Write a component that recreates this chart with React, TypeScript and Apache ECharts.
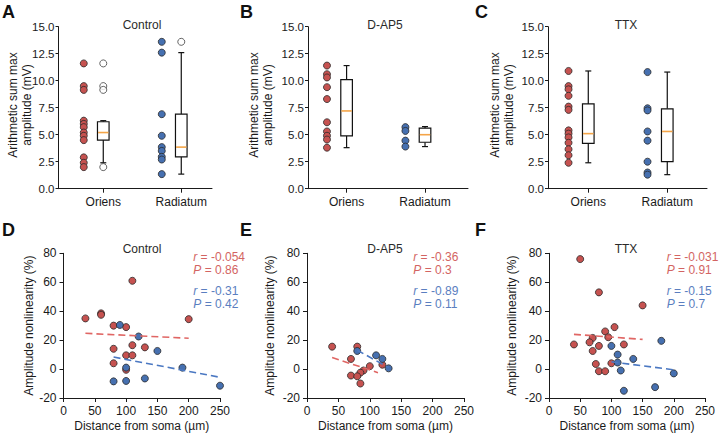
import React, { useEffect, useRef } from 'react';
import * as echarts from 'echarts';

// ---------- data ----------
const boxCategories = ['Oriens', 'Radiatum'];
const panelTitles = ['Control', 'D-AP5', 'TTX'];
const topYName = 'Arithmetic sum max\namplitude (mV)';

// Arithmetic sum max amplitude (mV)
const controlOriens = [11.6, 9.5, 9.15, 6.3, 6.0, 5.7, 5.2, 4.9, 4.5, 2.9, 2.4, 2.0];
const controlRadiatum = [13.6, 12.6, 6.9, 4.9, 3.85, 3.5, 2.95, 2.7, 1.35];
const dap5Oriens = [11.4, 10.6, 10.3, 9.4, 8.3, 6.15, 5.3, 4.9, 4.55, 3.8];
const dap5Radiatum = [5.7, 5.35, 4.45, 3.9];
const ttxOriens = [10.9, 9.5, 9.2, 8.6, 7.6, 7.3, 5.4, 5.1, 4.75, 4.25, 3.65, 3.1, 2.4];
const ttxRadiatum = [10.8, 7.45, 7.25, 5.3, 4.45, 2.5, 1.5, 1.3];

// box stats [lowWhisker, q1, median, q3, highWhisker]
const controlOriensBox = [2.4, 4.5, 5.2, 6.2, 6.3];
const controlRadiatumBox = [1.35, 2.95, 3.85, 6.9, 12.6];
const dap5OriensBox = [3.8, 4.9, 7.2, 10.1, 11.4];
const dap5RadiatumBox = [3.9, 4.3, 5.0, 5.6, 5.75];
const ttxOriensBox = [2.4, 4.2, 5.1, 7.85, 10.9];
const ttxRadiatumBox = [1.3, 2.5, 5.3, 7.4, 10.8];

// outliers
const controlOriensOut = [11.6, 9.5, 9.15, 2.0];
const controlRadiatumOut = [13.6];

// Amplitude nonlinearity (%) vs distance from soma (µm)
const controlRed = [[110, 61], [35, 35], [60, 38.5], [60, 37.5], [200, 34.5], [80, 30], [100, 29], [110, 16.5], [130, 15], [80, 14], [100, 9.5], [110, 9.5], [80, 4], [100, -0.5]];
const controlBlue = [[90, 30.5], [120, 22.5], [150, 12.5], [100, 1], [190, 1], [80, -8.5], [100, -8.2], [130, -6.5], [250, -11.5]];
const dap5Red = [[40, 15.5], [80, 15.5], [70, 7], [100, 2], [120, 3], [90, -1], [85, -2.5], [70, -4.5], [80, -5], [85, -10]];
const dap5Blue = [[80, 12.5], [110, 9.5], [120, 7], [130, 0.5]];
const ttxRed = [[50, 76], [80, 53], [150, 44], [105, 29], [90, 26], [95, 22], [70, 21.5], [40, 17], [65, 18.5], [80, 16], [120, 17], [70, 12.5], [75, 3.5], [100, 4], [80, -1.5], [90, -1.5]];
const ttxBlue = [[180, 19.5], [100, 16], [110, 10], [135, 7], [110, 4.5], [115, -1], [200, -3], [170, -12.5], [120, -15]];

// regression line end points
const controlRedFit = [[35, 24.7], [200, 21.3]];
const controlBlueFit = [[80, 8.3], [250, -5.7]];
const dap5RedFit = [[40, 8], [113, -2.5]];
const dap5BlueFit = [[80, 13], [130, 1]];
const ttxRedFit = [[40, 24], [150, 20.5]];
const ttxBlueFit = [[100, 5], [200, -0.5]];

// statistics
const rRed = ['-0.054', '-0.36', '-0.031'];
const pRed = ['0.86', '0.3', '0.91'];
const rBlue = ['-0.31', '-0.89', '-0.15'];
const pBlue = ['0.42', '0.11', '0.7'];

// ---------- styles ----------
const FONT = 'Liberation Sans, Arial, sans-serif';
const INK = '#1a1a1a';
const RED = '#c65250';
const BLUE = '#4670b0';
const RED_TXT = '#d36462';
const BLUE_TXT = '#5a7ec0';
const RED_LINE = '#e06664';
const BLUE_LINE = '#4b78c2';
const ORANGE = '#f4a548';

const topGrids = [
  { left: 58.5, width: 153.5, xmin: 0.426, xmax: 2.394, nameX: 20 },
  { left: 308, width: 160, xmin: 0.508, xmax: 2.548, nameX: 260.5 },
  { left: 548, width: 159, xmin: 0.49, xmax: 2.503, nameX: 501.5 },
];
const botGrids = [
  { left: 63.5, width: 156.5, nameGap: 28 },
  { left: 307, width: 157, nameGap: 31 },
  { left: 549, width: 156, nameGap: 31 },
];

const boxRender = (params: any, api: any) => {
  const x = api.value(0);
  const pLo = api.coord([x, api.value(1)]);
  const pQ1 = api.coord([x, api.value(2)]);
  const pMed = api.coord([x, api.value(3)]);
  const pQ3 = api.coord([x, api.value(4)]);
  const pHi = api.coord([x, api.value(5)]);
  const cx = pLo[0];
  const hw = 5.8;
  const cw = 3;
  const st = { stroke: '#111', lineWidth: 1.2 };
  return {
    type: 'group',
    children: [
      { type: 'line', shape: { x1: cx, y1: pHi[1], x2: cx, y2: pQ3[1] }, style: st },
      { type: 'line', shape: { x1: cx, y1: pQ1[1], x2: cx, y2: pLo[1] }, style: st },
      { type: 'line', shape: { x1: cx - cw, y1: pHi[1], x2: cx + cw, y2: pHi[1] }, style: st },
      { type: 'line', shape: { x1: cx - cw, y1: pLo[1], x2: cx + cw, y2: pLo[1] }, style: st },
      { type: 'rect', shape: { x: cx - hw, y: pQ3[1], width: hw * 2, height: pQ1[1] - pQ3[1] }, style: { fill: '#fff', stroke: '#111', lineWidth: 1.2 } },
      { type: 'line', shape: { x1: cx - hw + 0.6, y1: pMed[1], x2: cx + hw - 0.6, y2: pMed[1] }, style: { stroke: ORANGE, lineWidth: 1.6 } },
    ],
  };
};

const dotStyle = (color: string) => ({ color, borderColor: '#2a2a2a', borderWidth: 0.8, opacity: 1 });

export default function App() {
  const ref = useRef<HTMLDivElement>(null);
  useEffect(() => {
    if (!ref.current) return;
    const chart = echarts.init(ref.current, undefined, { renderer: 'svg' });

    const grids: any[] = [];
    const xAxes: any[] = [];
    const yAxes: any[] = [];
    const series: any[] = [];
    const graphic: any[] = [];

    const topDots = [
      [controlOriens, controlRadiatum],
      [dap5Oriens, dap5Radiatum],
      [ttxOriens, ttxRadiatum],
    ];
    const topBoxes = [
      [controlOriensBox, controlRadiatumBox],
      [dap5OriensBox, dap5RadiatumBox],
      [ttxOriensBox, ttxRadiatumBox],
    ];
    const topOutliers = [
      [controlOriensOut, controlRadiatumOut],
      [[], []],
      [[], []],
    ];

    topGrids.forEach((g, i) => {
      grids.push({ left: g.left, top: 26.7, width: g.width, height: 162 });
      xAxes.push({
        type: 'value', gridIndex: i, min: g.xmin, max: g.xmax,
        axisLine: { show: true, lineStyle: { color: INK, width: 1 } },
        axisTick: { show: true, customValues: [1, 2], length: 4, lineStyle: { color: INK } },
        axisLabel: {
          customValues: [1, 2], margin: 7, color: INK, fontSize: 12, fontFamily: FONT,
          formatter: (v: number) => boxCategories[Math.round(v) - 1] ?? '',
        },
        splitLine: { show: false },
      });
      yAxes.push({
        type: 'value', gridIndex: i, min: 0, max: 15, interval: 2.5,
        axisLine: { show: true, lineStyle: { color: INK, width: 1 } },
        axisTick: { show: true, length: 3, lineStyle: { color: INK } },
        axisLabel: { margin: 4, color: INK, fontSize: 11.5, fontFamily: FONT, formatter: (v: number) => v.toFixed(1) },
        splitLine: { show: false },
      });
      graphic.push({
        type: 'text', x: g.nameX, y: 105, rotation: Math.PI / 2, silent: true,
        style: { text: topYName, fill: INK, fontSize: 12, lineHeight: 14, fontFamily: FONT, align: 'center', verticalAlign: 'middle' },
      });
      const [oriens, radiatum] = topDots[i];
      series.push({ type: 'scatter', xAxisIndex: i, yAxisIndex: i, symbolSize: 7, itemStyle: dotStyle(RED), data: oriens.map((v) => [0.75, v]) });
      series.push({ type: 'scatter', xAxisIndex: i, yAxisIndex: i, symbolSize: 7, itemStyle: dotStyle(BLUE), data: radiatum.map((v) => [1.75, v]) });
      series.push({
        type: 'custom', xAxisIndex: i, yAxisIndex: i, renderItem: boxRender,
        encode: { x: 0, y: [1, 2, 3, 4, 5] },
        data: topBoxes[i].map((b, k) => [k + 1, ...b]),
      });
      const outs: number[][] = [];
      topOutliers[i].forEach((arr, k) => arr.forEach((v) => outs.push([k + 1, v])));
      series.push({ type: 'scatter', xAxisIndex: i, yAxisIndex: i, symbolSize: 7, itemStyle: { color: '#fff', borderColor: '#2a2a2a', borderWidth: 0.9 }, data: outs });
    });

    const botDots = [[controlRed, controlBlue], [dap5Red, dap5Blue], [ttxRed, ttxBlue]];
    const botFits = [[controlRedFit, controlBlueFit], [dap5RedFit, dap5BlueFit], [ttxRedFit, ttxBlueFit]];

    botGrids.forEach((g, j) => {
      const i = j + 3;
      grids.push({ left: g.left, top: 253.3, width: g.width, height: 144.7 });
      xAxes.push({
        type: 'value', gridIndex: i, min: 0, max: 250, interval: 50,
        name: 'Distance from soma (µm)', nameLocation: 'middle', nameGap: 22,
        nameTextStyle: { color: INK, fontSize: 12, fontFamily: FONT },
        axisLine: { show: true, onZero: false, lineStyle: { color: INK, width: 1 } },
        axisTick: { show: true, length: 4, lineStyle: { color: INK } },
        axisLabel: { margin: 7, color: INK, fontSize: 12, fontFamily: FONT },
        splitLine: { show: false },
      });
      yAxes.push({
        type: 'value', gridIndex: i, min: -20, max: 80, interval: 20,
        name: 'Amplitude nonlinearity (%)', nameLocation: 'middle', nameGap: g.nameGap,
        nameTextStyle: { color: INK, fontSize: 12, fontFamily: FONT },
        axisLine: { show: true, lineStyle: { color: INK, width: 1 } },
        axisTick: { show: true, length: 4, lineStyle: { color: INK } },
        axisLabel: { margin: 7, color: INK, fontSize: 12, fontFamily: FONT },
        splitLine: { show: false },
      });
      const [red, blue] = botDots[j];
      const [rf, bf] = botFits[j];
      series.push({ type: 'scatter', xAxisIndex: i, yAxisIndex: i, symbolSize: 7, itemStyle: dotStyle(RED), data: red });
      series.push({ type: 'scatter', xAxisIndex: i, yAxisIndex: i, symbolSize: 7, itemStyle: dotStyle(BLUE), data: blue });
      series.push({ type: 'line', xAxisIndex: i, yAxisIndex: i, symbol: 'none', z: 3, lineStyle: { color: RED_LINE, width: 1.6, type: [7, 4] }, data: rf });
      series.push({ type: 'line', xAxisIndex: i, yAxisIndex: i, symbol: 'none', z: 3, lineStyle: { color: BLUE_LINE, width: 1.6, type: [7, 4] }, data: bf });
    });

    const letters = [['A', 2, 3], ['B', 240, 3], ['C', 475, 3], ['D', 2, 221], ['E', 240, 221], ['F', 475, 221]];
    letters.forEach(([t, x, y]) => graphic.push({
      type: 'text', x, y, silent: true,
      style: { text: t, fill: '#111', fontSize: 18, fontWeight: 'bold', fontFamily: FONT, verticalAlign: 'top', align: 'left' },
    }));
    const titleX = [142, 385, 626];
    titleX.forEach((x, k) => {
      [25, 249].forEach((y) => graphic.push({
        type: 'text', x, y, silent: true,
        style: { text: panelTitles[k], fill: '#2a2a2a', fontSize: 12, fontFamily: FONT, align: 'center', verticalAlign: 'middle' },
      }));
    });
    const statX = [193.3, 413.3, 666.7];
    const statLine = (x: number, y: number, label: string, value: string, color: string) => ({
      type: 'text', x, y, silent: true,
      style: {
        text: `{i|${label}} = ${value}`, fill: color, fontSize: 12, fontFamily: FONT, align: 'left', verticalAlign: 'middle',
        rich: { i: { fill: color, fontStyle: 'italic', fontSize: 12, fontFamily: FONT } },
      },
    });
    statX.forEach((x, k) => {
      graphic.push(statLine(x, 256.7, 'r', rRed[k], RED_TXT));
      graphic.push(statLine(x, 269.5, 'P', pRed[k], RED_TXT));
      graphic.push(statLine(x, 291, 'r', rBlue[k], BLUE_TXT));
      graphic.push(statLine(x, 304.3, 'P', pBlue[k], BLUE_TXT));
    });

    chart.setOption({
      animation: false,
      backgroundColor: '#fff',
      textStyle: { fontFamily: FONT },
      grid: grids,
      xAxis: xAxes,
      yAxis: yAxes,
      series,
      graphic,
    });
    return () => chart.dispose();
  }, []);
  return <div ref={ref} style={{ position: 'fixed', left: 0, top: 0, width: 719, height: 435 }} />;
}
